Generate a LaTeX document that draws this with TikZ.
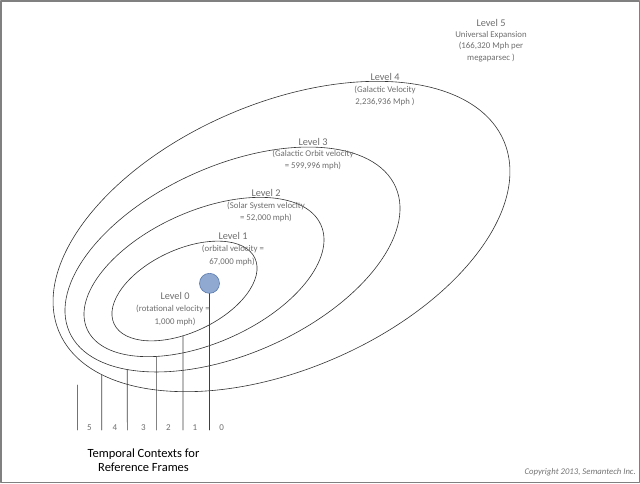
\documentclass[tikz,border=0pt]{standalone}
\usepackage{fontspec}
\setmainfont{Carlito}
\usetikzlibrary{intersections}
\definecolor{txtgray}{HTML}{6E6E6E}
\definecolor{framegray}{HTML}{808080}
\definecolor{earthblue}{HTML}{8FA9D1}
\definecolor{earthrim}{HTML}{5B7BAF}
\tikzset{
  lvl/.style={anchor=base, inner sep=0pt, text=txtgray, font=\fontsize{10.3}{12}\selectfont},
  info/.style={anchor=base, inner sep=0pt, text=txtgray, font=\fontsize{8.8}{11}\selectfont},
  num/.style={anchor=base, inner sep=0pt, text=txtgray, font=\fontsize{9}{11}\selectfont},
  orbit/.style={draw=black!80, line width=0.6pt},
  tick/.style={draw=black!75, line width=0.6pt}
}
\begin{document}
\begin{tikzpicture}[x=1pt, y=-1pt, line join=round, line cap=round]
	\useasboundingbox (0,0) rectangle (640,483);
	\draw[framegray, line width=1.5pt] (0.75,0.75) rectangle (639.25,482.25);
	% orbits: level / centre / radii / tilt / tick x
	\foreach \n/\cx/\cy/\a/\b/\r/\vx in {1/184.5/291/77.7/41.4/25/183, 2/204/277/128/66/24/156.3, 3/232.5/259.5/178.5/94/24/127.3, 4/281.5/236.5/242/133/23.3/101.7}{
		\draw[orbit, name path global=orb\n, rotate around={\r:(\cx,\cy)}] (\cx,\cy) ellipse [x radius=\a pt, y radius=\b pt];
		\coordinate (base\n) at (\vx,430);
		\path[name path global=ray\n] (base\n) -- (\vx,292);
		\draw[tick, name intersections={of={orb\n} and {ray\n}, by={top\n}}] (base\n) -- (top\n);
	}
	\node[circle, fill=earthblue, draw=earthrim, line width=0.6pt, minimum size=20pt, inner sep=0pt] (earth) at (209.5,283.3) {};
	\coordinate (base0) at (209.5,430);
	\draw[tick] (earth.south) -- (base0);
	\coordinate (base5) at (77.3,430);
	\coordinate (top5) at (77.3,385);
	\draw[tick, draw=black!55] (base5) -- (top5);
	\foreach \x/\t in {89.3/5, 115/4, 143.3/3, 168.3/2, 195/1, 221.7/0}
		\node[num] (no\t) at (\x,430) {\t};
	% level labels
	\node[lvl] (lev5) at (491,26.7) {Level 5};
	\node[info] (lev5a) at (491,37) {Universal Expansion};
	\node[info] (lev5b) at (491,48.5) {(166,320 Mph per};
	\node[info] (lev5c) at (491,60) {megaparsec )};
	\node[lvl] (lev4) at (385,80.7) {Level 4};
	\node[info] (lev4a) at (385,92) {(Galactic Velocity};
	\node[info] (lev4b) at (385,104) {2,236,936 Mph )};
	\node[lvl] (lev3) at (313,145) {Level 3};
	\node[info] (lev3a) at (313,156) {(Galactic Orbit velocity};
	\node[info] (lev3b) at (313,168.5) {= 599,996 mph)};
	\node[lvl] (lev2) at (266,196) {Level 2};
	\node[info] (lev2a) at (266,208) {(Solar System velocity};
	\node[info] (lev2b) at (266,220) {= 52,000 mph)};
	\node[lvl] (lev1) at (233,239.3) {Level 1};
	\node[info] (lev1a) at (233,251.5) {(orbital velocity =};
	\node[info] (lev1b) at (232,264) {67,000 mph)};
	\node[lvl] (lev0) at (175,299.3) {Level 0};
	\node[info] (lev0a) at (173,311.5) {(rotational velocity =};
	\node[info] (lev0b) at (175,324) {1,000 mph)};
	% title and credit
	\node[anchor=base, inner sep=0pt, font=\fontsize{12.5}{14}\selectfont] (title1) at (143.5,457.3) {Temporal Contexts for};
	\node[anchor=base, inner sep=0pt, font=\fontsize{12.5}{14}\selectfont] (title2) at (143.5,471.7) {Reference Frames};
	\node[anchor=base east, inner sep=0pt, text=black!55, font=\fontsize{8.7}{10}\selectfont\itshape] (credit) at (636,474.5) {Copyright 2013, Semantech Inc.};
\end{tikzpicture}
\end{document}
